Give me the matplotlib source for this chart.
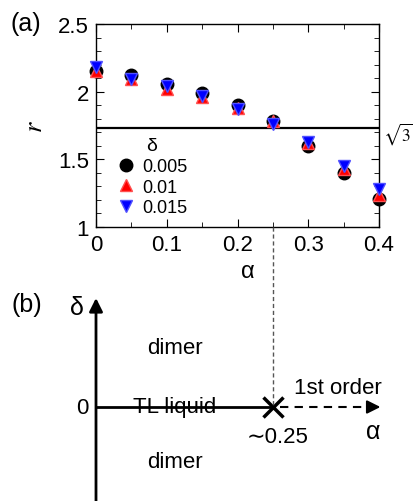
import matplotlib
matplotlib.use('Agg')
import matplotlib.pyplot as plt
from matplotlib.ticker import MultipleLocator, FormatStrFormatter

plt.rcParams['font.family'] = ['Liberation Sans', 'DejaVu Sans']
plt.rcParams['mathtext.fontset'] = 'stix'

# data
alpha = [0, 0.05, 0.1, 0.15, 0.2, 0.25, 0.3, 0.35, 0.4]
r_005 = [2.15, 2.12, 2.06, 1.99, 1.90, 1.785, 1.60, 1.40, 1.205]
r_010 = [2.15, 2.09, 2.02, 1.96, 1.88, 1.785, 1.62, 1.43, 1.24]
r_015 = [2.18, 2.09, 2.04, 1.97, 1.875, 1.76, 1.625, 1.45, 1.28]
deltas = ['0.005', '0.01', '0.015']
sqrt3 = 3 ** 0.5
alpha_c = 0.25

W, H = 413, 502
fig = plt.figure(figsize=(W / 100, H / 100), dpi=100)

# ---- panel (a)
ax = fig.add_axes([96 / W, 1 - 228 / H, 283 / W, 203 / H])
ax.plot(alpha, r_005, 'o', color='black', ms=9, label=deltas[0], clip_on=False, zorder=3)
ax.plot(alpha, r_010, '^', color='red', mec='#ff5050', ms=9, label=deltas[1], clip_on=False, zorder=3)
ax.plot(alpha, r_015, 'v', color='blue', mec='#5050ff', ms=9, label=deltas[2], clip_on=False, zorder=3)
ax.axhline(sqrt3, color='black', lw=1.6)
ax.set_xlim(0, 0.4)
ax.set_ylim(1, 2.5)
ax.xaxis.set_major_locator(MultipleLocator(0.1))
ax.xaxis.set_minor_locator(MultipleLocator(0.05))
ax.yaxis.set_major_locator(MultipleLocator(0.5))
ax.yaxis.set_minor_locator(MultipleLocator(0.1))
ax.xaxis.set_major_formatter(FormatStrFormatter('%g'))
ax.yaxis.set_major_formatter(FormatStrFormatter('%g'))
ax.tick_params(which='both', direction='in', top=True, right=True, labelsize=16)
ax.tick_params(which='major', length=6, pad=5)
ax.tick_params(which='minor', length=3.5)
for s in ax.spines.values():
    s.set_linewidth(1.0)
ax.set_ylabel('$r$', fontsize=19, labelpad=8)
ax.set_xlabel('α', fontsize=17)
ax.xaxis.set_label_coords((248 - 96) / 283, -33 / 203)
ax.text(1.015, sqrt3 - 0.04, r'$\sqrt{3}$', transform=ax.get_yaxis_transform(),
        fontsize=12.5, va='center', ha='left')
leg = ax.legend(title='δ', loc='lower left', bbox_to_anchor=(0.03, 0.0),
                frameon=False, fontsize=13, title_fontsize=14,
                handletextpad=0.3, labelspacing=0.2, borderaxespad=0.2,
                handlelength=1.2)
fig.text(10 / W, 1 - 24 / H, '(a)', fontsize=18, va='center', ha='left')

# ---- panel (b), x in alpha units, aligned with panel (a)
bx = fig.add_axes([96 / W, 0, 283 / W, 212 / H])
bx.set_xlim(0, 0.4)
bx.set_ylim(-94, 118)
bx.axis('off')
# delta axis with arrow
bx.annotate('', xy=(0, 109), xytext=(0, -94),
            arrowprops=dict(arrowstyle='-|>', color='black', lw=2,
                            mutation_scale=20, shrinkA=0, shrinkB=0),
            annotation_clip=False)
# solid TL line up to alpha_c, dashed beyond
bx.plot([0, alpha_c], [0, 0], color='black', lw=2, clip_on=False)
bx.plot([alpha_c + 0.01, 0.385], [0, 0], color='black', lw=1.5,
        ls=(0, (4, 3)), clip_on=False)
bx.annotate('', xy=(0.402, 0), xytext=(0.385, 0),
            arrowprops=dict(arrowstyle='-|>', color='black', lw=1.5,
                            mutation_scale=20, shrinkA=0, shrinkB=0),
            annotation_clip=False)
bx.plot([alpha_c], [0], 'x', color='black', ms=14, mew=2.5, clip_on=False)
bx.text(-0.01, 0, '0', fontsize=16, ha='right', va='center')
bx.text(-0.017, 100, 'δ', fontsize=18, ha='right', va='center')
bx.text(0.111, 60, 'dimer', fontsize=16, ha='center', va='center')
bx.text(0.111, -55, 'dimer', fontsize=16, ha='center', va='center')
bx.text(0.111, 0, 'TL liquid', fontsize=16, ha='center', va='center')
bx.text(0.342, 20, '1st order', fontsize=16, ha='center', va='center')
bx.text(0.392, -24, 'α', fontsize=18, ha='center', va='center')
bx.text(0.257, -30, '∼0.25', fontsize=16, ha='center', va='center')
fig.text(27 / W, 1 - 305 / H, '(b)', fontsize=18, va='center', ha='center')

# dashed guide from panel (a) down to the critical point
fig.add_artist(plt.Line2D([273 / W, 273 / W], [1 - 228 / H, 1 - 408 / H],
                          color='#555555', lw=1, ls=(0, (3, 2))))

fig.savefig('out.png', dpi=100)
